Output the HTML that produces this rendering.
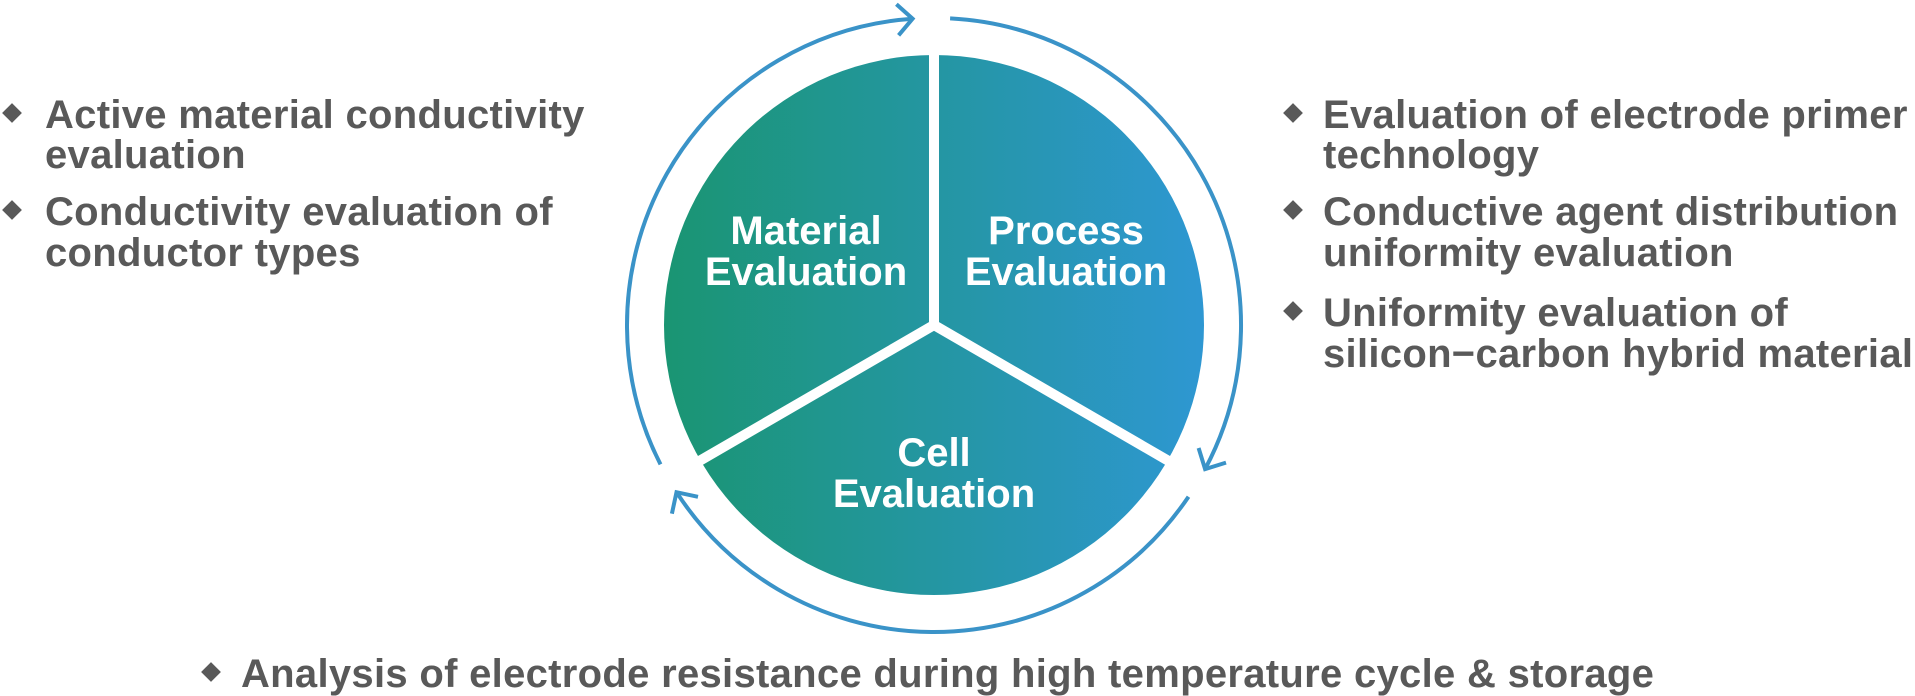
<!DOCTYPE html>
<html><head><meta charset="utf-8"><style>
html,body{margin:0;padding:0;background:#fff;}
body{width:1915px;height:696px;position:relative;overflow:hidden;font-family:"Liberation Sans",Arial,sans-serif;}
.t{position:absolute;color:#595959;font-size:40px;font-weight:bold;line-height:40px;white-space:nowrap;letter-spacing:0.3px;}
.d{position:absolute;width:14px;height:14px;background:#595959;transform:rotate(45deg);}
svg{position:absolute;left:0;top:0;}
</style></head><body>
<svg width="1915" height="696" viewBox="0 0 1915 696">
<defs><linearGradient id="g" x1="0" x2="1" y1="0" y2="0">
<stop offset="0" stop-color="#1a9572"/><stop offset="1" stop-color="#2e97d2"/></linearGradient></defs>
<circle cx="934" cy="325" r="270" fill="url(#g)"/>
<g stroke="#fff" stroke-width="10" stroke-linecap="butt">
<line x1="934" y1="325" x2="934" y2="45"/>
<line x1="934" y1="325" x2="1179" y2="467"/>
<line x1="934" y1="325" x2="689" y2="467"/>
</g>
<g fill="none" stroke="#3a93c8" stroke-width="4">
<path d="M660.5 464.4 A307 307 0 0 1 912.6 18.7"/>
<path d="M950.1 18.4 A307 307 0 0 1 1205.1 469.1"/>
<path d="M1188.5 496.7 A307 307 0 0 1 676.5 492.2"/>
<polyline points="896.4,4.3 912.6,18.7 898.6,35.3"/>
<polyline points="1226,462.6 1205.1,469.1 1198.6,448"/>
<polyline points="671.9,513.7 676.5,492.2 698,496.8"/>
</g>
<g fill="#fff" font-family="Liberation Sans,Arial,sans-serif" font-size="40" font-weight="bold" text-anchor="middle">
<text x="806" y="244">Material</text><text x="806" y="285">Evaluation</text>
<text x="1066" y="244">Process</text><text x="1066" y="285">Evaluation</text>
<text x="934" y="466">Cell</text><text x="934" y="507">Evaluation</text>
</g>
</svg>
<div class="d" style="left:5px;top:106px"></div>
<div class="t" style="left:45px;top:95px">Active material conductivity</div>
<div class="t" style="left:45px;top:135px">evaluation</div>
<div class="d" style="left:5px;top:203px"></div>
<div class="t" style="left:45px;top:192px">Conductivity evaluation of</div>
<div class="t" style="left:45px;top:233px">conductor types</div>

<div class="d" style="left:1286px;top:106px"></div>
<div class="t" style="left:1323px;top:95px">Evaluation of electrode primer</div>
<div class="t" style="left:1323px;top:135px">technology</div>
<div class="d" style="left:1286px;top:203px"></div>
<div class="t" style="left:1323px;top:192px">Conductive agent distribution</div>
<div class="t" style="left:1323px;top:233px">uniformity evaluation</div>
<div class="d" style="left:1286px;top:304px"></div>
<div class="t" style="left:1323px;top:293px">Uniformity evaluation of</div>
<div class="t" style="left:1323px;top:334px">silicon−carbon hybrid material</div>

<div class="d" style="left:204px;top:665px"></div>
<div class="t" style="left:241px;top:654px">Analysis of electrode resistance during high temperature cycle &amp; storage</div>
</body></html>
